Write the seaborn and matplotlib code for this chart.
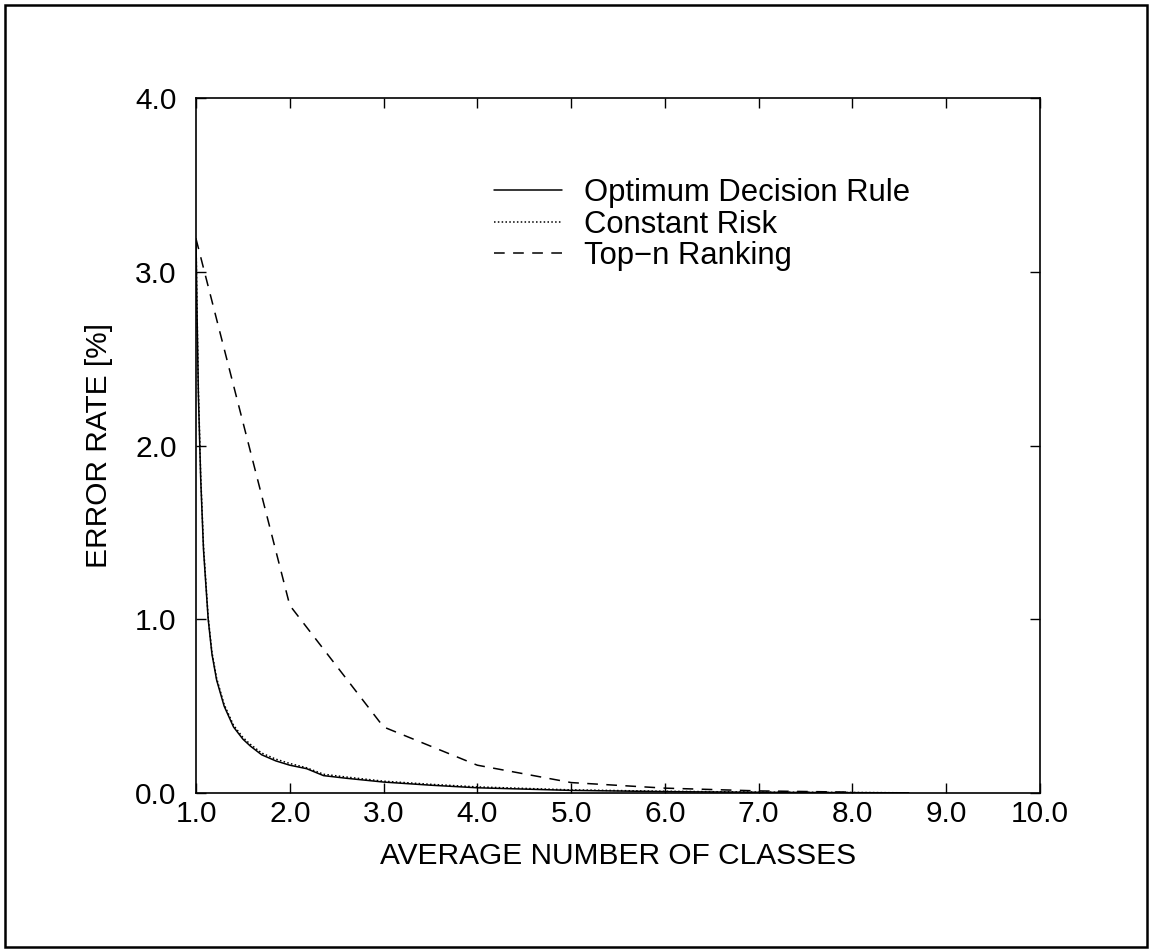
import matplotlib

matplotlib.use("Agg")
import matplotlib.pyplot as plt
import matplotlib.patches as mpatches
import numpy as np
import pandas as pd
import seaborn as sns

# values
opt_x = [1.0, 1.01, 1.025, 1.05, 1.08, 1.13, 1.17, 1.22, 1.30, 1.40, 1.50, 1.58,
         1.70, 1.85, 2.0, 2.18, 2.36, 2.6, 3.0, 3.5, 4.0, 5.0, 6.0, 7.0, 8.0, 8.6]
opt_y = [3.19, 2.8, 2.3, 1.81, 1.40, 1.0, 0.80, 0.65, 0.50, 0.38, 0.31, 0.27,
         0.22, 0.185, 0.16, 0.14, 0.10, 0.085, 0.063, 0.045, 0.03, 0.015, 0.008,
         0.004, 0.002, 0.001]

risk_x = [1.0, 1.01, 1.025, 1.05, 1.08, 1.13, 1.17, 1.22, 1.30, 1.40, 1.50, 1.58,
          1.70, 1.85, 2.0, 2.18, 2.36, 2.6, 3.0, 3.5, 4.0, 5.0, 6.0, 7.0, 8.0, 8.6]
risk_y = [3.19, 2.82, 2.33, 1.83, 1.42, 1.01, 0.81, 0.66, 0.51, 0.39, 0.32, 0.28,
          0.23, 0.195, 0.17, 0.145, 0.108, 0.092, 0.068, 0.05, 0.035, 0.018, 0.01,
          0.005, 0.003, 0.001]

topn_x = [1, 2, 3, 4, 5, 6, 7, 8]
topn_y = [3.19, 1.08, 0.38, 0.16, 0.06, 0.028, 0.012, 0.005]

x_ticks = [1.0, 2.0, 3.0, 4.0, 5.0, 6.0, 7.0, 8.0, 9.0, 10.0]
y_ticks = [0.0, 1.0, 2.0, 3.0, 4.0]

sns.set_style("ticks")
plt.rcParams.update({
    "font.family": ["Liberation Sans", "DejaVu Sans"],
    "font.size": 21.5,
    "text.color": "black",
    "axes.labelcolor": "black",
    "xtick.color": "black",
    "ytick.color": "black",
})

df = pd.concat([
    pd.DataFrame({"x": opt_x, "y": opt_y, "rule": "Optimum Decision Rule"}),
    pd.DataFrame({"x": risk_x, "y": risk_y, "rule": "Constant Risk"}),
    pd.DataFrame({"x": topn_x, "y": topn_y, "rule": "Top\u2212n Ranking"}),
])

fig = plt.figure(figsize=(11.52, 9.52), dpi=100)
ax = fig.add_axes([196 / 1152, 1 - 793 / 952, 844 / 1152, 695 / 952])

sns.lineplot(
    data=df, x="x", y="y", hue="rule", style="rule",
    palette=["black", "black", "black"],
    dashes=["", (1, 1.5), (7, 5.5)],
    linewidth=1.1, sort=False, estimator=None, ax=ax,
)

ax.set_xlim(1.0, 10.0)
ax.set_ylim(0.0, 4.0)
ax.set_xticks(x_ticks)
ax.set_xticklabels([f"{v:.1f}" for v in x_ticks])
ax.set_yticks(y_ticks)
ax.set_yticklabels([f"{v:.1f}" for v in y_ticks])
ax.tick_params(direction="in", top=True, right=True, length=7.5, width=1.0,
               labelsize=21.5, color="black", labelcolor="black")
ax.tick_params(axis="y", pad=14)
ax.tick_params(axis="x", pad=5)
for sp in ax.spines.values():
    sp.set_linewidth(1.2)
    sp.set_color("black")

ax.set_xlabel("AVERAGE NUMBER OF CLASSES", fontsize=21.5, labelpad=10)
ax.set_ylabel("ERROR RATE [%]", fontsize=21.5, labelpad=16)

leg = ax.legend(title=None, frameon=False, loc="upper left",
                bbox_to_anchor=(0.32, 0.925), fontsize=22.3,
                handlelength=2.2, handletextpad=0.7, labelspacing=0.05)
for t in leg.get_texts():
    t.set_color("black")

# outer frame around the whole page
fig.patches.append(mpatches.Rectangle(
    (5 / 1152, 5 / 952), 1142 / 1152, 942 / 952, transform=fig.transFigure,
    fill=False, edgecolor="black", linewidth=1.8))

fig.savefig("out.png", dpi=100, facecolor="white")
